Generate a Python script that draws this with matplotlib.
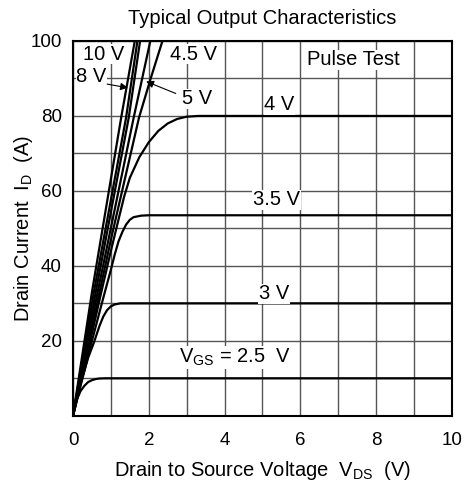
import matplotlib
matplotlib.use("Agg")
import matplotlib.pyplot as plt

plt.rcParams['font.family'] = ['Liberation Sans', 'DejaVu Sans']

# Curves: (V_DS, I_D)
v_10 = [0, 0.5, 1.27, 1.63]
i_10 = [0, 33, 79.5, 100]
v_8 = [0, 0.55, 1.40, 1.70]
i_8 = [0, 33, 79.5, 100]
v_6 = [0, 0.6, 1.47, 1.77]
i_6 = [0, 33, 79.5, 100]
v_5 = [0, 0.65, 1.60, 2.04]
i_5 = [0, 33, 79.5, 100]
v_45 = [0, 0.7, 1.0, 1.74, 2.05, 2.36]
i_45 = [0, 33, 47, 79.5, 90, 100]
v_4 = [0, 0.5, 0.74, 1.0, 1.18, 1.35, 1.5, 1.75, 2.0, 2.25, 2.5, 2.75, 3.0, 3.3, 3.6, 10]
i_4 = [0, 22, 32.7, 44, 51.5, 58.5, 63.5, 69, 73, 76, 78, 79.2, 79.8, 80, 80, 80]
v_35 = [0, 0.5, 0.8, 1.0, 1.1, 1.2, 1.3, 1.4, 1.5, 1.6, 1.8, 2.0, 10]
i_35 = [0, 20, 31.5, 39, 43, 46.5, 49, 51, 52.3, 53, 53.4, 53.5, 53.5]
v_3 = [0, 0.2, 0.4, 0.55, 0.7, 0.8, 0.9, 1.0, 1.1, 1.25, 10]
i_3 = [0, 8.5, 15.5, 19.5, 24, 26.5, 28.2, 29.2, 29.7, 30, 30]
v_25 = [0, 0.1, 0.2, 0.3, 0.4, 0.5, 0.6, 0.7, 0.85, 10]
i_25 = [0, 4.3, 6.6, 8.0, 9.0, 9.5, 9.8, 9.95, 10, 10]

x_ticks = [0, 2, 4, 6, 8, 10]
y_ticks = [20, 40, 60, 80, 100]

fig = plt.figure(figsize=(4.65, 4.88), dpi=100)
ax = fig.add_axes([0.157, 0.148, 0.815, 0.768])

for v, i in [(v_10, i_10), (v_8, i_8), (v_6, i_6), (v_5, i_5), (v_45, i_45),
             (v_4, i_4), (v_35, i_35), (v_3, i_3), (v_25, i_25)]:
    ax.plot(v, i, color='black', lw=1.6, zorder=3, solid_capstyle='butt')

ax.set_xlim(0, 10)
ax.set_ylim(0, 100)
ax.set_yticks(range(0, 101, 10))
ax.set_xticks(range(0, 11))
ax.grid(True, color='#555555', lw=1.0, zorder=0)
ax.set_axisbelow(True)
ax.set_xticklabels([str(t) if t in x_ticks else '' for t in range(0, 11)])
ax.set_yticklabels([str(t) if t in y_ticks else '' for t in range(0, 101, 10)])
ax.tick_params(axis='x', length=0, labelsize=13.5, pad=12)
ax.tick_params(axis='y', length=0, labelsize=13.5, pad=8)
for s in ax.spines.values():
    s.set_linewidth(1.5)

ax.set_title('Typical Output Characteristics', fontsize=14.5, pad=12)
ax.set_xlabel(r'Drain to Source Voltage  V$_\mathregular{DS}$  (V)', fontsize=14.5, labelpad=7)
ax.set_ylabel(r'Drain Current  I$_\mathregular{D}$  (A)', fontsize=14.5, labelpad=-3)

bb = dict(facecolor='white', edgecolor='none', pad=0.5)
kw = dict(fontsize=14.5, ha='center', va='center', bbox=bb, zorder=4)
ax.text(0.80, 96.5, '10 V', **kw)
ax.text(0.49, 90.4, '8 V', **kw)
ax.text(3.17, 96.5, '4.5 V', **kw)
ax.text(3.27, 84.6, '5 V', **kw)
ax.text(5.45, 83.0, '4 V', **kw)
ax.text(5.37, 57.6, '3.5 V', **kw)
ax.text(5.3, 32.5, '3 V', **kw)
ax.text(4.27, 15.5, r'V$_\mathregular{GS}$ = 2.5  V', **kw)
ax.text(7.4, 95, 'Pulse Test', **kw)

ax.annotate('', xy=(1.45, 87.5), xytext=(0.9, 88.5),
            arrowprops=dict(arrowstyle='-|>', color='black', lw=0.8,
                            mutation_scale=11, shrinkA=0, shrinkB=0), zorder=5)
ax.annotate('', xy=(1.93, 89.2), xytext=(2.71, 86.0),
            arrowprops=dict(arrowstyle='-|>', color='black', lw=0.8,
                            mutation_scale=11, shrinkA=0, shrinkB=0), zorder=5)

fig.savefig('out.png', dpi=100)
